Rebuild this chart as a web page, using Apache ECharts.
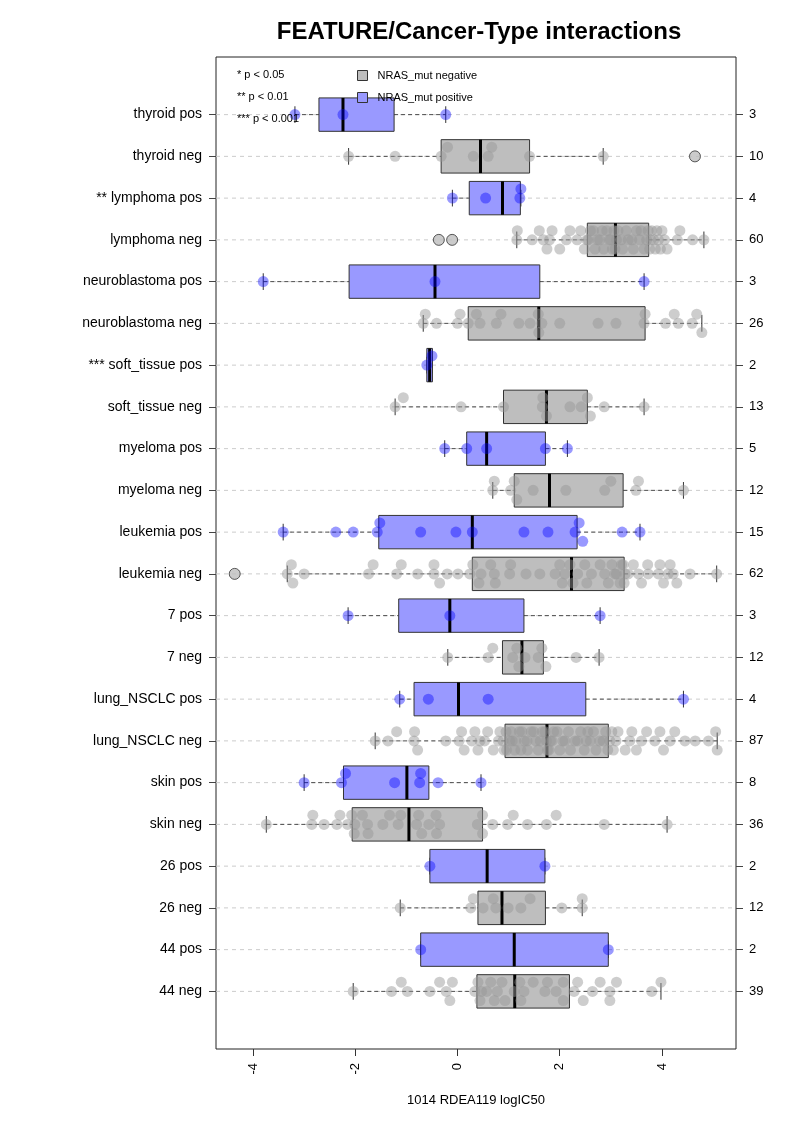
<!DOCTYPE html>
<html><head><meta charset="utf-8">
<script src="https://cdn.jsdelivr.net/npm/echarts@6/dist/echarts.min.js"></script>
<style>html,body{margin:0;padding:0;background:#fff}#c{width:793px;height:1122px}</style>
</head><body><div id="c"></div>
<script>
const categories = [
  'thyroid pos', 'thyroid neg', '** lymphoma pos', 'lymphoma neg',
  'neuroblastoma pos', 'neuroblastoma neg', '*** soft_tissue pos', 'soft_tissue neg',
  'myeloma pos', 'myeloma neg', 'leukemia pos', 'leukemia neg',
  '7 pos', '7 neg', 'lung_NSCLC pos', 'lung_NSCLC neg',
  'skin pos', 'skin neg', '26 pos', '26 neg', '44 pos', '44 neg'
];
const counts = [3, 10, 4, 60, 3, 26, 2, 13, 5, 12, 15, 62, 3, 12, 4, 87, 8, 36, 2, 12, 2, 39];

const whiskerLow    = [-3.18, -2.13, -0.10, 1.16, -3.80, -0.67, -0.60, -1.22, -0.25, 0.69, -3.41, -3.33, -2.14, -0.19, -1.13, -1.61, -3.00, -3.74, -0.54, -1.12, -0.72, -2.04];
const lowerQuartile = [-2.71, -0.32, 0.23, 2.54, -2.12, 0.21, -0.60, 0.90, 0.18, 1.11, -1.54, 0.29, -1.15, 0.88, -0.85, 0.93, -2.23, -2.06, -0.54, 0.40, -0.72, 0.38];
const medianValue   = [-2.24, 0.45, 0.88, 3.09, -0.44, 1.59, -0.545, 1.74, 0.57, 1.80, 0.29, 2.23, -0.15, 1.26, 0.02, 1.75, -0.99, -0.95, 0.58, 0.87, 1.11, 1.12];
const upperQuartile = [-1.24, 1.41, 1.23, 3.74, 1.61, 3.67, -0.49, 2.54, 1.72, 3.24, 2.34, 3.26, 1.30, 1.68, 2.51, 2.95, -0.56, 0.49, 1.71, 1.72, 2.95, 2.19];
const whiskerHigh   = [-0.23, 2.85, 1.24, 4.82, 3.65, 4.78, -0.49, 3.65, 2.15, 4.42, 3.57, 5.07, 2.79, 2.77, 4.42, 5.08, 0.46, 4.10, 1.71, 2.44, 2.95, 3.98];

const pointValues = [
  [-3.18, -2.24, -0.23],
  [-2.13, -1.22, -0.32, -0.195, 0.31, 0.60, 0.67, 1.41, 2.85],
  [-0.10, 0.55, 1.22, 1.24],
  [1.16, 1.17, 1.46, 1.60, 1.68, 1.75, 1.80, 1.85, 2.00, 2.13, 2.20, 2.34, 2.41, 2.48, 2.53,
   2.56, 2.60, 2.66, 2.69, 2.74, 2.78, 2.83, 2.86, 2.92, 2.96, 2.99, 3.03, 3.06, 3.08,
   3.11, 3.14, 3.20, 3.23, 3.30, 3.34, 3.41, 3.44, 3.50, 3.56, 3.59, 3.65, 3.70, 3.73,
   3.76, 3.78, 3.80, 3.84, 3.87, 3.90, 3.93, 3.97, 4.00, 4.05, 4.10, 4.30, 4.35, 4.60, 4.82],
  [-3.80, -0.44, 3.65],
  [-0.67, -0.63, -0.41, 0.00, 0.05, 0.21, 0.37, 0.44, 0.76, 0.85, 1.20, 1.42, 1.58, 1.59, 1.65,
   2.00, 2.75, 3.10, 3.65, 3.67, 4.07, 4.24, 4.32, 4.59, 4.68, 4.78],
  [-0.60, -0.50],
  [-1.22, -1.06, 0.07, 0.90, 1.66, 1.67, 1.74, 2.20, 2.42, 2.54, 2.60, 2.87, 3.65],
  [-0.25, 0.18, 0.57, 1.72, 2.15],
  [0.69, 0.72, 1.04, 1.11, 1.16, 1.48, 2.12, 2.88, 3.00, 3.49, 3.54, 4.42],
  [-3.41, -2.38, -2.04, -1.57, -1.52, -0.72, -0.03, 0.29, 1.30, 1.77, 2.30, 2.38, 2.45, 3.22, 3.57],
  [-3.33, -3.25, -3.22, -3.00, -1.74, -1.65, -1.19, -1.10, -0.78, -0.46, -0.46, -0.35, -0.20, 0.01, 0.24,
   0.30, 0.42, 0.46, 0.65, 0.72, 0.74, 1.02, 1.04, 1.34, 1.61, 1.91, 2.00, 2.05, 2.10, 2.20,
   2.26, 2.35, 2.49, 2.53, 2.62, 2.79, 2.88, 2.95, 3.02, 3.08, 3.11, 3.18, 3.21, 3.24, 3.26,
   3.28, 3.34, 3.44, 3.54, 3.60, 3.72, 3.73, 3.93, 3.96, 4.03, 4.12, 4.16, 4.22, 4.29, 4.55, 5.07],
  [-2.14, -0.15, 2.79],
  [-0.19, 0.60, 0.69, 1.08, 1.16, 1.20, 1.32, 1.58, 1.65, 1.73, 2.32, 2.77],
  [-1.13, -0.57, 0.60, 4.42],
  [-1.61, -1.36, -1.19, -0.85, -0.84, -0.78, -0.23, 0.03, 0.08, 0.13, 0.28, 0.34, 0.40, 0.44, 0.53, 0.59, 0.70, 0.80, 0.83, 0.89, 0.91,
   0.95, 0.96, 1.02, 1.05, 1.07, 1.12, 1.14, 1.21, 1.24, 1.26, 1.31, 1.36, 1.37, 1.44, 1.49, 1.53, 1.58, 1.62, 1.66, 1.71, 1.74,
   1.76, 1.79, 1.82, 1.85, 1.88, 1.95, 2.00, 2.06, 2.10, 2.17, 2.21, 2.30, 2.35, 2.41, 2.48, 2.52, 2.55, 2.60, 2.66, 2.71, 2.78, 2.85, 2.90, 2.94,
   2.98, 3.02, 3.05, 3.10, 3.14, 3.28, 3.37, 3.41, 3.50, 3.60, 3.70, 3.86, 3.96, 4.03, 4.16, 4.25, 4.45, 4.65, 4.91, 5.05, 5.08],
  [-3.00, -2.27, -2.19, -1.23, -0.74, -0.72, -0.38, 0.46],
  [-3.74, -2.85, -2.83, -2.61, -2.36, -2.30, -2.15, -2.07, -2.02, -2.01, -1.86, -1.76, -1.75, -1.46, -1.33, -1.16, -1.11, -0.80,
   -0.76, -0.70, -0.56, -0.42, -0.41, -0.35, 0.39, 0.49, 0.49, 0.69, 0.98, 1.09, 1.37, 1.74, 1.93, 2.87, 4.10],
  [-0.54, 1.71],
  [-1.12, 0.26, 0.31, 0.50, 0.70, 0.75, 0.99, 1.24, 1.42, 2.04, 2.44, 2.44],
  [-0.72, 2.95],
  [-2.04, -1.29, -1.10, -0.98, -0.54, -0.35, -0.22, -0.15, -0.10, 0.34, 0.40, 0.44, 0.47, 0.57, 0.65, 0.72, 0.78, 0.87, 0.93,
   1.11, 1.22, 1.24, 1.30, 1.48, 1.71, 1.76, 1.93, 2.07, 2.07, 2.28, 2.35, 2.46, 2.64, 2.79, 2.98, 2.98, 3.11, 3.80, 3.98]
];
// [row, value]
const outliers = [[1, 4.645], [3, -0.365], [3, -0.105], [11, -4.358]];
const xTicks = [-4, -2, 0, 2, 4];
const pValueNotes = ['* p < 0.05', '** p < 0.01', '*** p < 0.001'];
const groupNames = ['NRAS_mut negative', 'NRAS_mut positive'];

const FONT = 'Liberation Sans, Arial, Helvetica, sans-serif';
const rowIdx = categories.map((c, i) => i);
const isPos = i => i % 2 === 0;

// beeswarm-like layout: three levels (center, up, down)
function swarmLevels(values) {
  const DIAM = 0.2;
  const order = values.map((v, i) => i).sort((a, b) => values[a] - values[b]);
  const placed = [];
  const res = new Array(values.length).fill(0);
  for (const i of order) {
    const x = values[i];
    let best = 0, bestCount = Infinity;
    for (const l of [0, -1, 1]) {
      const c = placed.filter(p => p.l === l && Math.abs(p.x - x) < DIAM).length;
      if (c < bestCount) { bestCount = c; best = l; }
      if (c === 0) break;
    }
    placed.push({ x, l: best });
    res[i] = best;
  }
  return res;
}
const STEP = 0.22;
const posPts = [], negPts = [];
pointValues.forEach((vals, row) => {
  const lv = swarmLevels(vals);
  vals.forEach((v, k) => (isPos(row) ? posPts : negPts).push([v, row + lv[k] * STEP]));
});

const boxData = rowIdx.map(i => [i, whiskerLow[i], lowerQuartile[i], medianValue[i], upperQuartile[i], whiskerHigh[i]]);

function renderBox(params, api) {
  const row = api.value(0);
  const cs = params.coordSys;
  const yc = api.coord([0, row])[1];
  const half = api.size([0, 0.4])[1];
  const capH = api.size([0, 0.2])[1];
  const px = k => api.coord([api.value(k), row])[0];
  const wl = px(1), q1 = px(2), md = px(3), q3 = px(4), wh = px(5);
  const pos = isPos(row);
  const dash = { stroke: '#4d4d4d', lineWidth: 1, lineDash: [4, 3] };
  const solid = { stroke: '#333', lineWidth: 1 };
  return {
    type: 'group',
    children: [
      { type: 'line', shape: { x1: cs.x, y1: yc, x2: cs.x + cs.width, y2: yc }, style: { stroke: '#cccccc', lineWidth: 1, lineDash: [4, 4] } },
      { type: 'line', shape: { x1: wl, y1: yc, x2: q1, y2: yc }, style: dash },
      { type: 'line', shape: { x1: q3, y1: yc, x2: wh, y2: yc }, style: dash },
      { type: 'line', shape: { x1: wl, y1: yc - capH, x2: wl, y2: yc + capH }, style: solid },
      { type: 'line', shape: { x1: wh, y1: yc - capH, x2: wh, y2: yc + capH }, style: solid },
      { type: 'rect', shape: { x: q1, y: yc - half, width: Math.max(q3 - q1, 1), height: 2 * half },
        style: { fill: pos ? '#9999ff' : '#bebebe', stroke: '#333', lineWidth: 1 } },
      { type: 'line', shape: { x1: md, y1: yc - half, x2: md, y2: yc + half }, style: { stroke: '#000', lineWidth: 3 } }
    ]
  };
}

const chart = echarts.init(document.getElementById('c'), null, { renderer: 'canvas' });
const yCommon = {
  type: 'value', min: -1.38, max: 22.38, inverse: true,
  axisLine: { show: false, onZero: false }, splitLine: { show: false },
  axisTick: { show: true, length: 7, customValues: rowIdx, lineStyle: { color: '#444' } }
};
chart.setOption({
  animation: false,
  textStyle: { fontFamily: FONT },
  title: {
    text: 'FEATURE/Cancer-Type interactions', left: 474, top: 15, textAlign: 'center',
    textStyle: { fontSize: 24, fontWeight: 'bold', color: '#000', fontFamily: FONT }
  },
  legend: {
    orient: 'vertical', left: 352, top: 65, itemWidth: 10, itemHeight: 10, itemGap: 11,
    icon: 'rect',
    textStyle: { fontSize: 11, color: '#000', fontFamily: FONT, padding: [0, 0, 0, 5] },
    data: [
      { name: groupNames[0], itemStyle: { color: '#bebebe', borderColor: '#333', borderWidth: 1, opacity: 1 } },
      { name: groupNames[1], itemStyle: { color: '#9999ff', borderColor: '#333', borderWidth: 1, opacity: 1 } }
    ],
    selectedMode: false
  },
  graphic: pValueNotes.map((t, k) => ({
    type: 'text', left: 237, top: 69 + k * 22, z: 10,
    style: { text: t, fontSize: 11, fill: '#000', fontFamily: FONT }
  })),
  grid: { left: 216, right: 57, top: 57, bottom: 73, show: true, borderColor: '#222', borderWidth: 1, backgroundColor: 'transparent' },
  xAxis: {
    type: 'value', min: -4.724, max: 5.448,
    axisLine: { show: false, onZero: false }, splitLine: { show: false },
    axisTick: { show: true, length: 7, customValues: xTicks, lineStyle: { color: '#333' } },
    axisLabel: { customValues: xTicks, rotate: 90, margin: 14, fontSize: 13, color: '#000', fontFamily: FONT },
    name: '1014 RDEA119 logIC50', nameLocation: 'middle', nameGap: 45,
    nameTextStyle: { fontSize: 13, color: '#000', fontFamily: FONT }
  },
  yAxis: [
    Object.assign({}, yCommon, {
      position: 'left',
      axisLabel: { customValues: rowIdx, formatter: v => categories[Math.round(v)], fontSize: 14, color: '#000', margin: 14, fontFamily: FONT }
    }),
    Object.assign({}, yCommon, {
      position: 'right',
      axisLabel: { customValues: rowIdx, formatter: v => String(counts[Math.round(v)]), fontSize: 13, color: '#000', margin: 13, fontFamily: FONT }
    })
  ],
  series: [
    {
      name: 'boxes', type: 'custom', renderItem: renderBox, data: boxData, z: 2,
      encode: { x: [1, 2, 3, 4, 5], y: 0 }, silent: true
    },
    {
      name: groupNames[0], type: 'scatter', data: negPts, symbolSize: 11, z: 4, silent: true,
      itemStyle: { color: 'rgba(150,150,150,0.6)', borderWidth: 0 }
    },
    {
      name: groupNames[1], type: 'scatter', data: posPts, symbolSize: 11, z: 4, silent: true,
      itemStyle: { color: 'rgba(0,0,255,0.5)', borderWidth: 0 }
    },
    {
      name: 'outliers', type: 'scatter', data: outliers.map(o => [o[1], o[0]]), symbolSize: 11, z: 5, silent: true,
      itemStyle: { color: '#bebebe', borderColor: '#333', borderWidth: 1 }
    }
  ]
});
</script></body></html>
